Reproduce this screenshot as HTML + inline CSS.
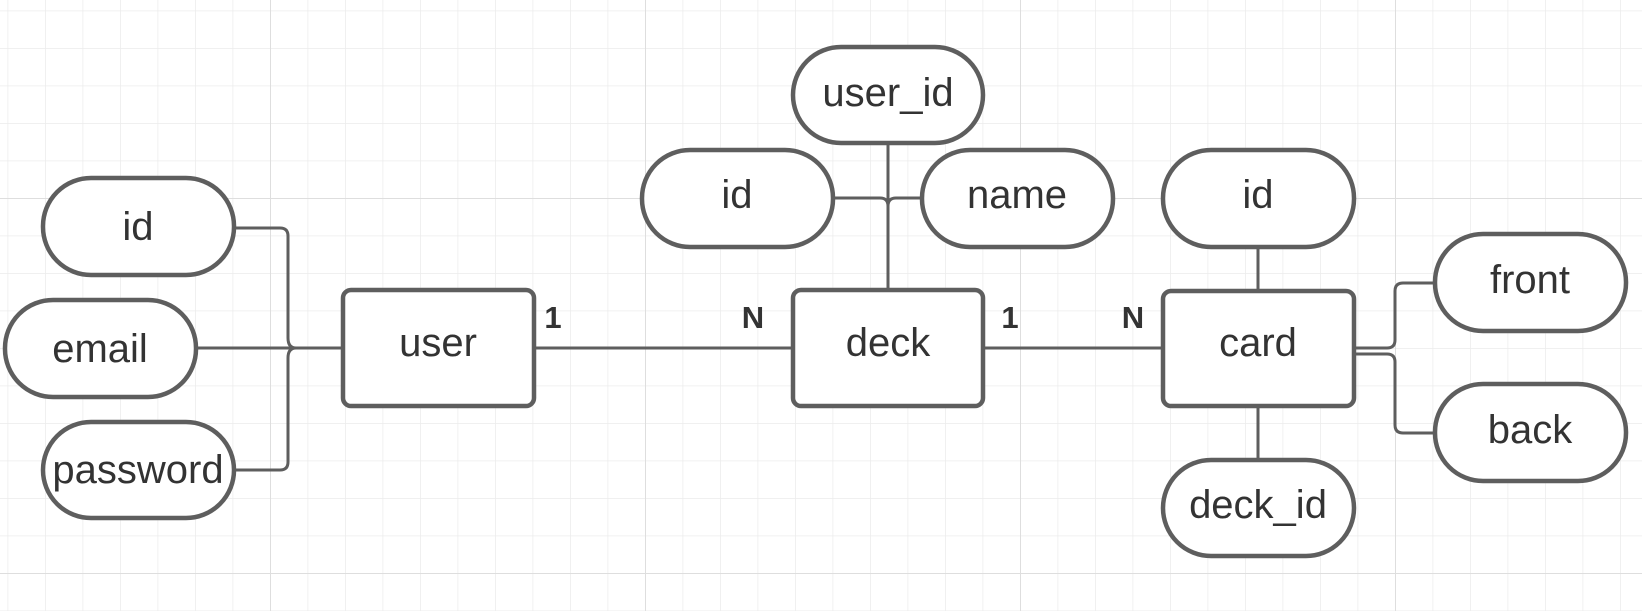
<!DOCTYPE html>
<html><head><meta charset="utf-8"><style>
html,body{margin:0;padding:0;background:#fff;}
svg{display:block;}
text{font-family:"Liberation Sans",sans-serif;fill:#333;}
</style></head><body>
<svg width="1642" height="611" viewBox="0 0 1642 611" xmlns="http://www.w3.org/2000/svg">
<defs>
<pattern id="minor" x="7.5" y="10.5" width="37.5" height="37.5" patternUnits="userSpaceOnUse">
<path d="M0 0V37.5M0 0H37.5" stroke="#ececec" stroke-width="1.5" fill="none"/>
</pattern>
<pattern id="major" x="270" y="198" width="375" height="375" patternUnits="userSpaceOnUse">
<path d="M0 0V375M0 0H375" stroke="#dedede" stroke-width="2" fill="none"/>
</pattern>
</defs>
<rect width="1642" height="611" fill="#fff"/>
<rect width="1642" height="611" fill="url(#minor)"/>
<rect width="1642" height="611" fill="url(#major)"/>

<g stroke="#5e5e5e" stroke-width="3" fill="none">
<!-- user attrs -->
<path d="M234 228H280Q288 228 288 236V338Q288 348 296 348"/>
<path d="M196 348H343"/>
<path d="M234 470H280Q288 470 288 462V358Q288 348 296 348"/>
<!-- user-deck -->
<path d="M534 348H793"/>
<!-- deck attrs -->
<path d="M888 143V290"/>
<path d="M833 198H880Q888 198 888 206"/>
<path d="M922 198H896Q888 198 888 206"/>
<!-- deck-card -->
<path d="M983 348H1163"/>
<!-- card attrs -->
<path d="M1258 247V291"/>
<path d="M1258 406V460"/>
<path d="M1354 348H1387Q1395 348 1395 340V291Q1395 283 1403 283H1435"/>
<path d="M1354 354H1387Q1395 354 1395 362V425Q1395 433 1403 433H1435"/>
</g>

<g stroke="#5e5e5e" stroke-width="4.5" fill="#fff">
<rect x="43" y="178" width="191" height="97" rx="48"/>
<rect x="5" y="300" width="191" height="97" rx="48"/>
<rect x="43" y="422" width="191" height="96" rx="48"/>
<rect x="343" y="290" width="191" height="116" rx="8"/>
<rect x="793" y="47" width="190" height="96" rx="48"/>
<rect x="642" y="150" width="191" height="97" rx="48"/>
<rect x="922" y="150" width="191" height="97" rx="48"/>
<rect x="793" y="290" width="190" height="116" rx="8"/>
<rect x="1163" y="150" width="191" height="97" rx="48"/>
<rect x="1163" y="291" width="191" height="115" rx="8"/>
<rect x="1163" y="460" width="191" height="96" rx="48"/>
<rect x="1435" y="234" width="191" height="97" rx="48"/>
<rect x="1435" y="384" width="191" height="97" rx="48"/>
</g>

<g font-size="40" text-anchor="middle">
<text x="138" y="240">id</text>
<text x="100" y="362">email</text>
<text x="138" y="483">password</text>
<text x="438" y="356">user</text>
<text x="888" y="106">user_id</text>
<text x="737" y="208">id</text>
<text x="1017" y="208">name</text>
<text x="888" y="356">deck</text>
<text x="1258" y="208">id</text>
<text x="1258" y="356">card</text>
<text x="1258" y="518">deck_id</text>
<text x="1530" y="293">front</text>
<text x="1530" y="443">back</text>
</g>
<g font-size="31" font-weight="bold" text-anchor="middle">
<text x="553" y="328">1</text>
<text x="753" y="328">N</text>
<text x="1010" y="328">1</text>
<text x="1133" y="328">N</text>
</g>
</svg>
</body></html>
